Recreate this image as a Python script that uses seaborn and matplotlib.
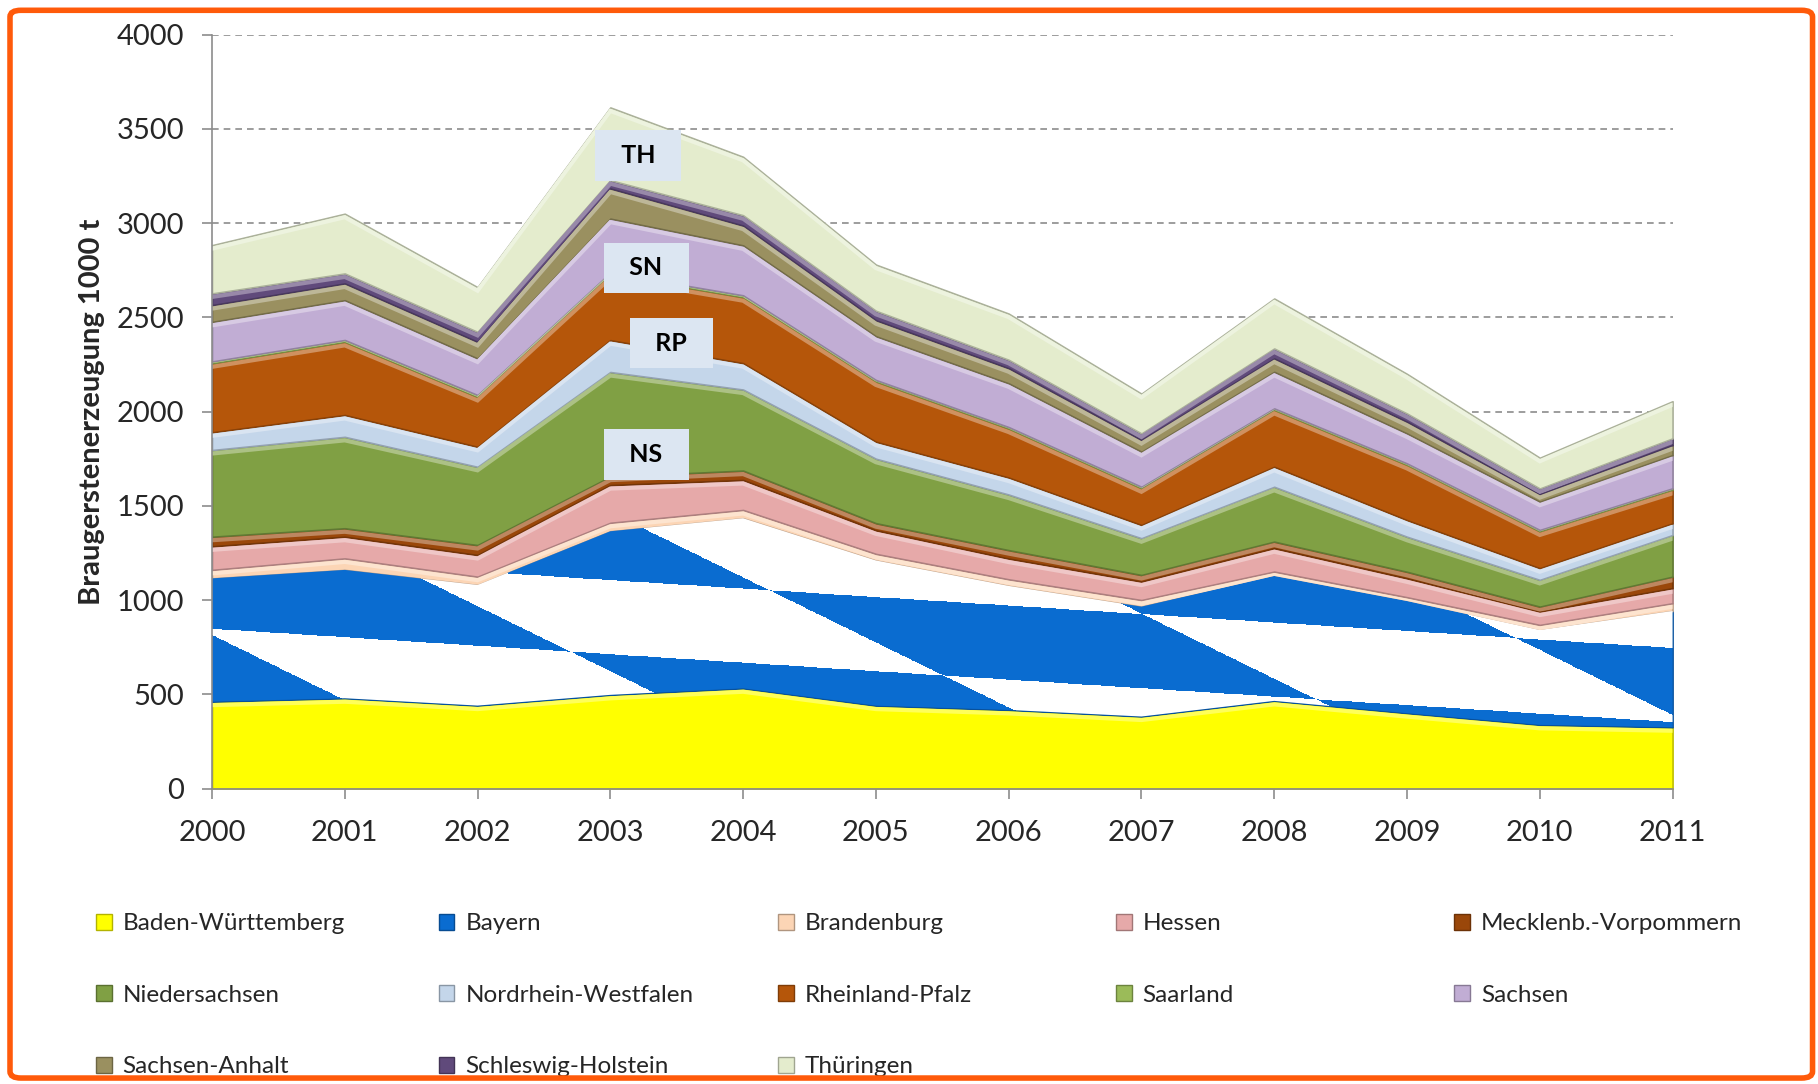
import numpy as np
import matplotlib
matplotlib.use('Agg')
import matplotlib.pyplot as plt
import matplotlib.transforms as mtransforms
import seaborn as sns
from matplotlib.patches import Patch, FancyBboxPatch
from matplotlib.colors import to_rgb

sns.set_theme(style='white')
plt.rcParams['font.family'] = ['Lato', 'DejaVu Sans']

# Braugerstenerzeugung in 1000 t
years = list(range(2000, 2012))
baden_wuerttemberg = [461, 479, 440, 497, 532, 440, 417, 382, 465, 400, 338, 325]
bayern = [654, 681, 640, 868, 902, 770, 658, 583, 663, 595, 503, 617]
brandenburg = [45, 61, 44, 45, 44, 35, 35, 35, 23, 20, 27, 41]
hessen = [125, 115, 115, 200, 159, 125, 110, 98, 124, 100, 71, 80]
meckl_vorpommern = [51, 45, 53, 45, 50, 38, 45, 35, 35, 35, 26, 61]
niedersachsen = [460, 485, 415, 555, 430, 342, 295, 195, 291, 186, 142, 221]
nordrhein_westfalen = [94, 116, 106, 169, 140, 90, 90, 70, 106, 88, 62, 62]
rheinland_pfalz = [366, 388, 265, 348, 350, 320, 260, 195, 302, 293, 195, 178]
saarland = [10, 10, 10, 10, 10, 8, 8, 8, 8, 8, 8, 8]
sachsen = [210, 211, 194, 287, 265, 232, 232, 186, 194, 159, 150, 176]
sachsen_anhalt = [89, 89, 88, 160, 105, 85, 80, 62, 71, 62, 40, 53]
schleswig_holstein = [62, 53, 53, 44, 55, 50, 45, 35, 53, 44, 30, 36]
thueringen = [256, 317, 237, 386, 310, 245, 245, 211, 265, 210, 163, 197]

labels = ['Baden-Württemberg', 'Bayern', 'Brandenburg', 'Hessen', 'Mecklenb.-Vorpommern',
          'Niedersachsen', 'Nordrhein-Westfalen', 'Rheinland-Pfalz', 'Saarland', 'Sachsen',
          'Sachsen-Anhalt', 'Schleswig-Holstein', 'Thüringen']
series = [baden_wuerttemberg, bayern, brandenburg, hessen, meckl_vorpommern, niedersachsen,
          nordrhein_westfalen, rheinland_pfalz, saarland, sachsen, sachsen_anhalt,
          schleswig_holstein, thueringen]
colors = ['#FFFF00', '#0A6CD0', '#FCD5B5', '#E6A9A9', '#9A470A', '#80A044', '#C4D6EA',
          '#B5560A', '#9BBB59', '#C1ADD4', '#9A9060', '#604A7B', '#E4ECCD']

# short labels in boxes (text, x, y)
box_labels = [('TH', 2003.21, 3360), ('SN', 2003.27, 2763),
              ('RP', 2003.46, 2363), ('NS', 2003.27, 1772)]


def shade(c, f):
    r, g, b = to_rgb(c)
    return (r * f, g * f, b * f)


def tint(c, f):
    r, g, b = to_rgb(c)
    return (r + (1 - r) * f, g + (1 - g) * f, b + (1 - b) * f)


fig = plt.figure(figsize=(18.18, 10.84), dpi=100)
ax = fig.add_axes([0.1166, 0.2726, 0.8034, 0.6954])

polys = ax.stackplot(years, *series, colors=colors, labels=labels, zorder=2)
for p, c in zip(polys, colors):
    p.set_edgecolor(shade(c, 0.75))
    p.set_linewidth(1.2)

# bavarian lozenge pattern clipped into the Bayern layer
tt = np.linspace(0, 11, 1600)
vv = np.linspace(0, 1600, 1000)
T, V = np.meshgrid(tt, vv)
u = np.floor((V + 45 * T - 849) / 393)
w = np.floor((V + 345 * T - 815) / 843)
white = ((u + w) % 2) == 1
img = np.zeros(T.shape + (3,))
img[:] = to_rgb('#0A6CD0')
img[white] = (1, 1, 1)
im = ax.imshow(img, extent=(2000, 2011, 0, 1600), origin='lower', aspect='auto',
               interpolation='nearest', zorder=2.1)
im.set_clip_path(polys[1].get_paths()[0], ax.transData)

# soft bevel highlight just under each layer's upper edge
tops = np.cumsum(np.array(series), axis=0)
shift = mtransforms.offset_copy(ax.transData, fig=fig, x=0, y=-3.5, units='dots')
for i, c in enumerate(colors):
    if i == 1:
        continue
    ln, = ax.plot(years, tops[i], color=tint(c, 0.35), linewidth=3, transform=shift,
                  zorder=2.2, solid_joinstyle='miter')
    ln.set_clip_path(polys[i].get_paths()[0], ax.transData)

for txt, x, y in box_labels:
    ax.text(x, y, '  ' + txt + '  ', ha='center', va='center', fontsize=18,
            fontweight='bold', color='black', zorder=5,
            bbox=dict(boxstyle='square,pad=0.55', facecolor='#DCE6F2', edgecolor='none'))

ax.set_xlim(2000, 2011)
ax.set_ylim(0, 4000)
ax.set_xticks(years)
ax.set_yticks(range(0, 4001, 500))
ax.yaxis.grid(True, color='#8C8C8C', linestyle=(0, (4, 3)), linewidth=1.2)
ax.set_axisbelow(True)
for s in ['top', 'right']:
    ax.spines[s].set_visible(False)
for s in ['left', 'bottom']:
    ax.spines[s].set_color('#8C8C8C')
    ax.spines[s].set_linewidth(1.2)
ax.tick_params(axis='both', which='major', labelsize=21, length=7, width=1.2,
               color='#8C8C8C', direction='out', left=True, bottom=True)
ax.tick_params(axis='y', pad=13)
ax.tick_params(axis='x', pad=16)
ax.set_ylabel('Braugerstenerzeugung 1000 t', fontsize=21, fontweight='bold', labelpad=8)

# legend: one legend per column so the columns line up
handles = [Patch(facecolor=c, edgecolor=shade(c, 0.7), linewidth=1) for c in colors]
col_x = [0.0528, 0.2413, 0.4278, 0.6138, 0.7998]
for k in range(5):
    idx = list(range(k, len(labels), 5))
    fig.legend([handles[i] for i in idx], [labels[i] for i in idx], loc='upper left',
               bbox_to_anchor=(col_x[k], 0.1575), frameon=False, fontsize=17.5,
               handlelength=0.65, handleheight=0.65, handletextpad=0.45,
               labelspacing=2.08, borderpad=0, borderaxespad=0)

fig.patches.append(FancyBboxPatch((0.0055, 0.0055), 0.9915, 0.985,
                                  boxstyle='round,pad=0,rounding_size=0.006',
                                  transform=fig.transFigure, facecolor='none',
                                  edgecolor='#FF5A0A', linewidth=4, zorder=10))

fig.savefig('out.png', dpi=100)
